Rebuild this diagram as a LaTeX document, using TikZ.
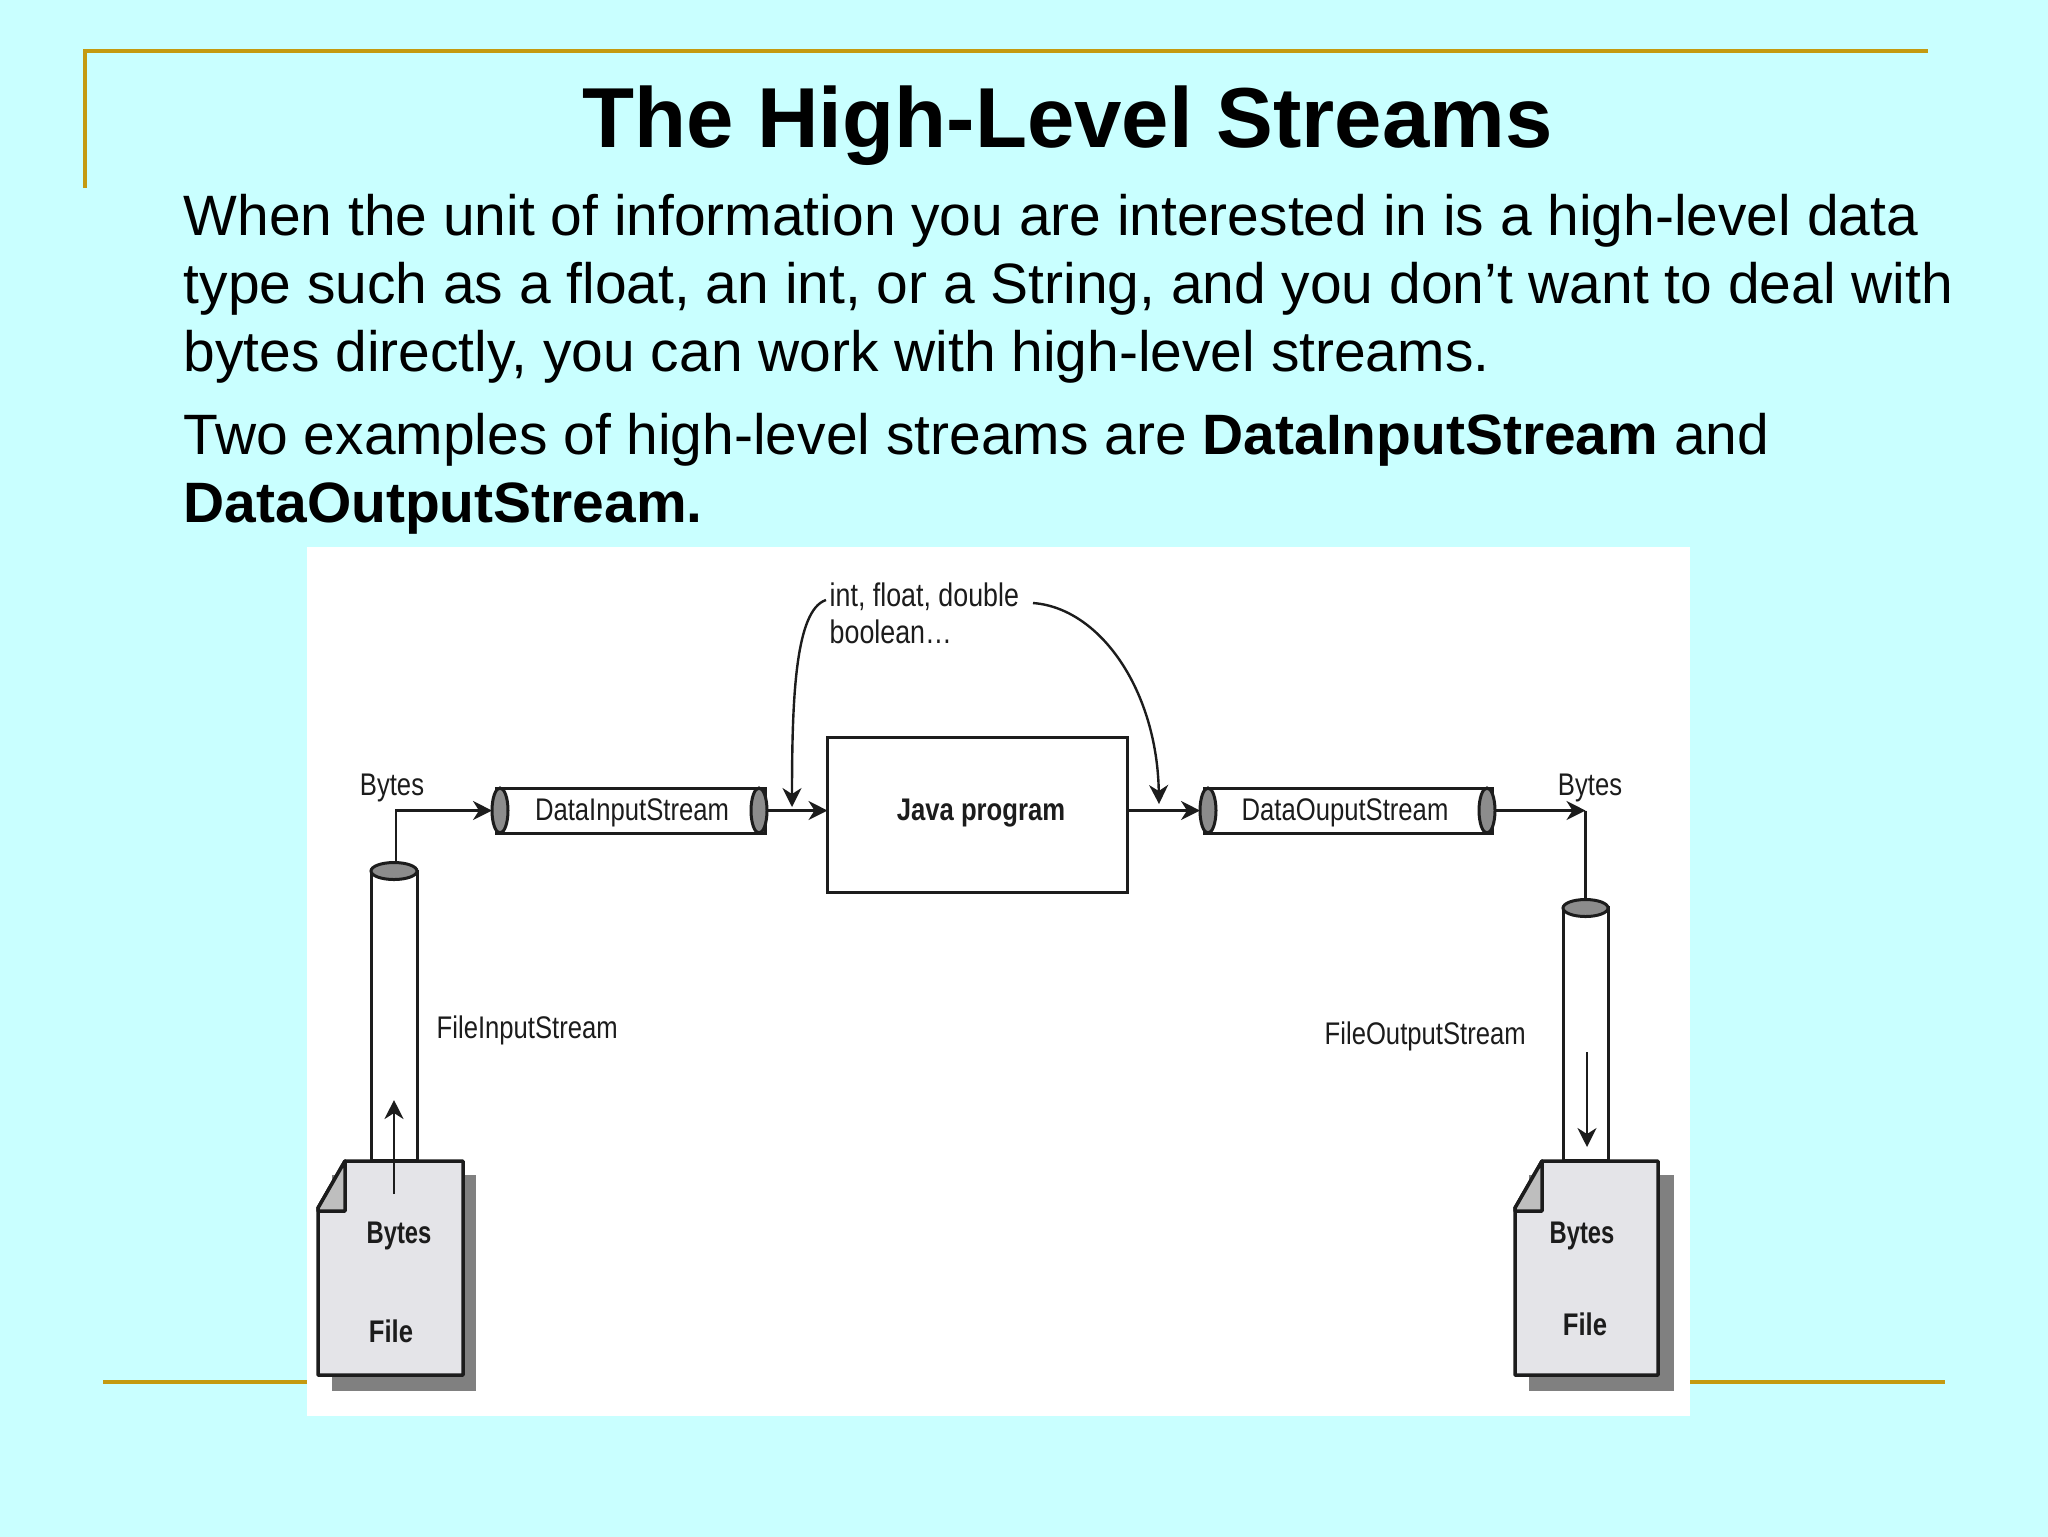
\documentclass[tikz,border=0pt]{standalone}
\usepackage{fontspec}
\setmainfont{Liberation Sans}
\newfontfamily\narrowfont[FakeStretch=0.82]{Liberation Sans}
\newfontfamily\tightfont[FakeStretch=0.76]{Liberation Sans}
\usetikzlibrary{arrows.meta,positioning,shapes.geometric}
\definecolor{sky}{RGB}{201,255,255}
\definecolor{gold}{RGB}{196,154,16}
\definecolor{ink}{RGB}{28,28,28}
\definecolor{capgray}{RGB}{140,140,140}
\definecolor{sheet}{RGB}{228,228,232}
\definecolor{foldgray}{RGB}{190,190,190}
\definecolor{shadowgray}{RGB}{128,128,128}
\tikzset{
  tip/.style={-{Stealth[length=1.9mm,width=1.9mm,inset=0.6mm]},draw=ink,line width=0.24mm},
  tube/.style={draw=ink,fill=white,line width=0.3mm,outer sep=0pt,inner sep=0pt},
  tubecap/.style={ellipse,draw=ink,fill=capgray,line width=0.3mm,outer sep=0pt,inner sep=0pt},
  tag/.style={text=ink,inner sep=0pt,font=\narrowfont\fontsize{8.9}{10}\selectfont},
  boldtag/.style={tag,font=\narrowfont\bfseries\fontsize{8.9}{10}\selectfont},
  bytestag/.style={tag,font=\tightfont\bfseries\fontsize{8.9}{10}\selectfont},
  para/.style={anchor=north west,inner sep=0pt,align=left,font=\fontsize{16.2}{19.35}\selectfont}
}

\begin{document}
\begin{tikzpicture}[x=0.1mm,y=-0.1mm]
    \useasboundingbox (0,0) rectangle (2048,1536);
    \fill[sky] (-5,-5) rectangle (2053,1541);
    \draw[gold,line width=0.35mm] (85,188) -- (85,51) -- (1928,51);
    \draw[gold,line width=0.35mm] (103,1382) -- (1945,1382);
    \node[inner sep=0pt,font=\bfseries\fontsize{24.23}{28}\selectfont] (title) at (1067.5,125.5) {The High-Level Streams};
    \node[para] (parafirst) at (183,194) {When the unit of information you are interested in is a high-level data\\
      type such as a float, an int, or a String, and you don’t want to deal with\\
      bytes directly, you can work with high-level streams.};
    \node[para] (parasecond) at (183,413) {Two examples of high-level streams are \textbf{DataInputStream} and\\
      \textbf{DataOutputStream.}};
    \fill[white] (307,547) rectangle (1690,1416);
    % pipes
    \node[tube,minimum width=26.9mm,minimum height=4.5mm,tag] (dis) at (630.5,810.5) {};
    \node[tube,minimum width=28.8mm,minimum height=4.5mm,tag] (dos) at (1348,810.5) {};
    \node[tag] (disText) at (632,812.5) {DataInputStream};
    \node[tag] (dosText) at (1345,812.5) {DataOuputStream};
    \foreach \n/\x in {disLeft/500,disRight/759,dosLeft/1208,dosRight/1487}
      \node[tubecap,minimum width=1.6mm,minimum height=4.5mm] (\n) at (\x,810.5) {};
    \node[tube,minimum width=4.6mm,minimum height=28.9mm] (fis) at (394,1016) {};
    \node[tube,minimum width=4.5mm,minimum height=25.3mm] (fos) at (1585.5,1034) {};
    \node[tubecap,minimum width=4.6mm,minimum height=1.7mm] (fisCap) at (394,871) {};
    \node[tubecap,minimum width=4.5mm,minimum height=1.7mm] (fosCap) at (1585.5,908) {};
    \node[draw=ink,line width=0.3mm,minimum width=30mm,minimum height=15.5mm,inner sep=0pt,outer sep=0pt] (java) at (977.5,814.5) {};
    \node[boldtag] (javaText) at (981,813.5) {Java program};
    % files with their folded corner
    \foreach \n/\l/\r/\s in {A/318/463/476,B/1515/1658/1674}
    {
      \fill[shadowgray] (\l+14,1175) rectangle (\s,1391);
      \draw[draw=ink,fill=sheet,line width=0.35mm,line join=round] (\l+27,1161) -- (\r,1161) -- (\r,1375) -- (\l,1375) -- (\l,1208) -- cycle;
      \draw[draw=ink,fill=foldgray,line width=0.35mm,line join=round] (\l+27,1161) -- (\l+27,1211) -- (\l,1211) -- (\l,1208) -- cycle;
    }
    \node[bytestag] (bytesA) at (399,1235.5) {Bytes};
    \node[boldtag] (fileA) at (391,1331) {File};
    \node[bytestag] (bytesB) at (1582,1235.5) {Bytes};
    \node[boldtag] (fileB) at (1585,1324) {File};
    % labels
    \node[tag] (bytesIn) at (392,788) {Bytes};
    \node[tag] (bytesOut) at (1590,788) {Bytes};
    \node[tag,anchor=west] (fisText) at (436,1030) {FileInputStream};
    \node[tag,anchor=west] (fosText) at (1324,1036) {FileOutputStream};
    \node[tag,anchor=north west,align=left,font=\narrowfont\fontsize{9.3}{10.5}\selectfont] (types) at (829,582) {int, float, double\\boolean\dots};
    % connectors
    \coordinate (inFrom) at (826,600);
    \coordinate (inTap) at (792,807);
    \coordinate (outFrom) at (1033,603);
    \coordinate (outTap) at (1159,804);
    \coordinate (corner) at (fosCap |- dosRight);
    \coordinate (upFrom) at (394,1194);
    \coordinate (upTo) at (394,1100);
    \coordinate (downFrom) at (1587,1052);
    \coordinate (downTo) at (1587,1147);
    \draw[tip] ([xshift=0.2mm]fisCap.north) |- (disLeft.west);
    \draw[tip] (disRight.east) -- (disRight.east -| java.west);
    \draw[tip] (dosLeft.west -| java.east) -- (dosLeft.west);
    \draw[tip] (dosRight.east) -- (corner);
    \draw[draw=ink,line width=0.24mm] (corner) -- (fosCap.north);
    \draw[tip] (inFrom) .. controls (795,610) and (792,700) .. (inTap);
    \draw[tip] (outFrom) .. controls (1100,608) and (1157,690) .. (outTap);
    \draw[tip] (upFrom) -- (upTo);
    \draw[tip] (downFrom) -- (downTo);
  \end{tikzpicture}
\end{document}
